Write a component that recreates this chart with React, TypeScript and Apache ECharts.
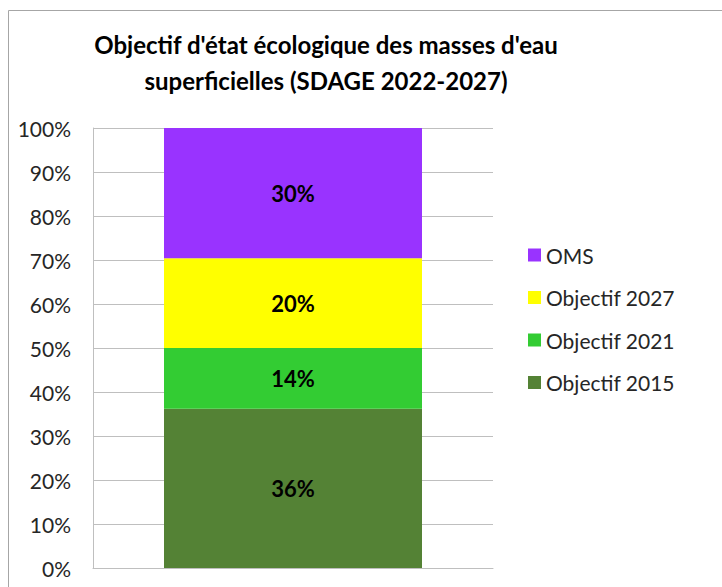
import React, { useEffect, useRef } from "react";
import * as echarts from "echarts";

const categories = ["SDAGE 2022-2027"];
const seriesNames = ["Objectif 2015", "Objectif 2021", "Objectif 2027", "OMS"];
const obj2015 = [36.2];
const obj2021 = [13.8];
const obj2027 = [20.4];
const oms = [29.6];
const yTicks = [0, 10, 20, 30, 40, 50, 60, 70, 80, 90, 100];
const colors = ["#548235", "#33CC33", "#FFFF00", "#9933FF"];
const legendOrder = ["OMS", "Objectif 2027", "Objectif 2021", "Objectif 2015"];

const FONT = "Lato";

export default function App() {
  const ref = useRef<HTMLDivElement>(null);
  useEffect(() => {
    if (!ref.current) return;
    const chart = echarts.init(ref.current, undefined, { renderer: "svg" });
    const values = [obj2015, obj2021, obj2027, oms];
    chart.setOption({
      animation: false,
      backgroundColor: "#ffffff",
      title: {
        text: "Objectif d'état écologique des masses d'eau\nsuperficielles (SDAGE 2022-2027)",
        left: 321,
        top: 21,
        textAlign: "center",
        textStyle: {
          fontFamily: FONT,
          fontWeight: "bold",
          fontSize: 24,
          lineHeight: 36,
          color: "#000000",
        },
      },
      graphic: [
        {
          type: "rect",
          shape: { x: 8.5, y: 10.5, width: 800, height: 700 },
          style: { fill: "none", stroke: "#a6a6a6", lineWidth: 1 },
          silent: true,
        },
      ],
      legend: {
        orient: "vertical",
        left: 523,
        top: 239,
        itemWidth: 13,
        itemHeight: 13,
        itemGap: 20.5,
        data: legendOrder,
        textStyle: { fontFamily: FONT, fontSize: 21, lineHeight: 22, color: "#262626" },
        icon: "rect",
      },
      grid: { left: 93, top: 128, width: 400, height: 440 },
      xAxis: {
        type: "category",
        data: categories,
        axisLine: { show: true, lineStyle: { color: "#bfbfbf" } },
        axisTick: { show: false },
        axisLabel: { show: false },
      },
      yAxis: {
        type: "value",
        min: yTicks[0],
        max: yTicks[yTicks.length - 1],
        interval: 10,
        axisLine: { show: true, lineStyle: { color: "#bfbfbf" } },
        axisTick: { show: false },
        splitLine: { lineStyle: { color: "#bfbfbf" } },
        axisLabel: {
          formatter: "{value}%",
          fontFamily: FONT,
          fontSize: 21,
          color: "#262626",
          margin: 22,
        },
      },
      series: seriesNames.map((name, i) => ({
        name,
        type: "bar",
        stack: "total",
        data: values[i],
        barWidth: 258,
        itemStyle: { color: colors[i] },
        label: {
          show: true,
          position: "inside",
          formatter: (p: any) => Math.round(p.value) + "%",
          fontFamily: FONT,
          fontWeight: "bold",
          fontSize: 22,
          color: "#000000",
        },
      })),
    });
    return () => chart.dispose();
  }, []);
  return (
    <div
      ref={ref}
      style={{ position: "fixed", left: 0, top: 0, width: 722, height: 587 }}
    />
  );
}
